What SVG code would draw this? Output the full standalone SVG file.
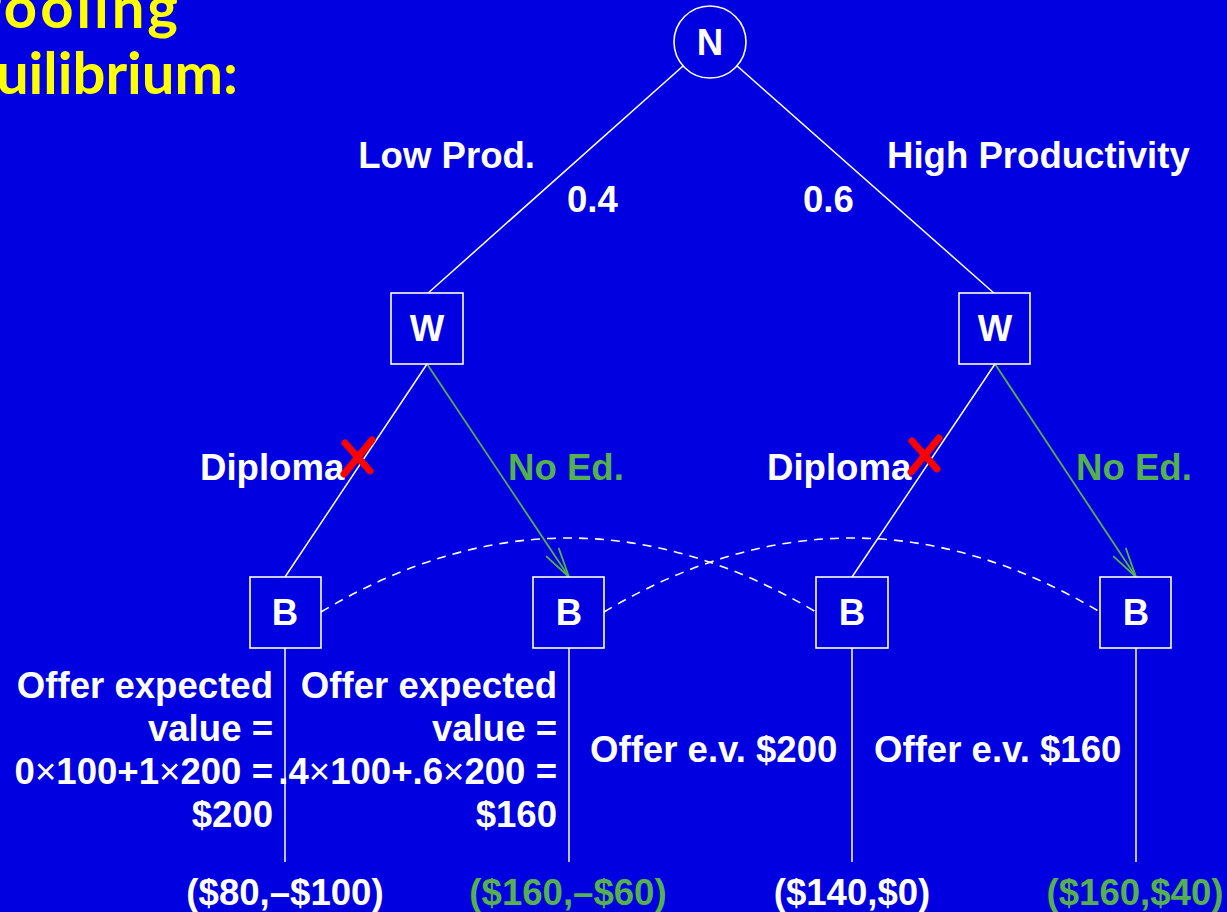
<svg xmlns="http://www.w3.org/2000/svg" width="1227" height="912" viewBox="0 0 1227 912">
  <defs>
    <style>
      .bg { fill: #0000E0; }
      .title { font-family: Lato, "Open Sans", sans-serif; font-weight: 700; font-size: 58px; fill: #FFFF00; }
      .t { font-family: "Liberation Sans", Arial, sans-serif; font-weight: 700; font-size: 36.6px; fill: #FFFFFF; }
      .x { font-weight: 400; }
      .g { fill: #55B04F; }
      .mid { text-anchor: middle; }
      .end { text-anchor: end; }
      .node { fill: #0000E0; stroke: #FFFFFF; stroke-width: 1.6; }
      .edge { fill: none; stroke: #FFFFFF; stroke-width: 1.5; }
      .choice { fill: none; stroke: #55B04F; stroke-width: 1.8; marker-end: url(#vee); }
      .info { fill: none; stroke: #FFFFFF; stroke-width: 1.6; stroke-dasharray: 9 7; }
      .cross { fill: none; stroke: #FF0000; stroke-width: 7; stroke-linecap: round; }
    </style>
    <marker id="vee" markerUnits="userSpaceOnUse" markerWidth="40" markerHeight="20" viewBox="-32 -10 34 20" refX="0" refY="0" orient="auto">
      <path d="M-30,-7.5 L0,0 L-30,7.5" fill="none" stroke="#55B04F" stroke-width="1.8"/>
    </marker>
  </defs>

  <rect class="bg" x="0" y="0" width="1227" height="912"/>

  <!-- heading, running off the left edge -->
  <text class="title end" x="181" y="28" letter-spacing="3">Pooling</text>
  <text class="title end" x="238" y="94">Equilibrium:</text>

  <!-- connectors -->
  <g id="connectors">
    <line class="edge" x1="710" y1="42" x2="427" y2="294"/>
    <line class="edge" x1="710" y1="42" x2="995" y2="294"/>
    <line class="edge" x1="427" y1="364" x2="285" y2="577"/>
    <line class="choice" x1="427" y1="364" x2="569" y2="577"/>
    <line class="edge" x1="995" y1="364" x2="852" y2="577"/>
    <line class="choice" x1="995" y1="364" x2="1136" y2="577"/>
    <line class="edge" x1="285" y1="647" x2="285" y2="862"/>
    <line class="edge" x1="569" y1="647" x2="569" y2="862"/>
    <line class="edge" x1="852" y1="647" x2="852" y2="862"/>
    <line class="edge" x1="1136" y1="647" x2="1136" y2="862"/>
    <!-- information sets -->
    <path class="info" d="M321,612 Q568,464 816,612"/>
    <path class="info" d="M604,612 Q852,464 1100,612"/>
  </g>

  <!-- branch labels -->
  <g id="labels">
    <text class="t end" x="535" y="168">Low Prod.</text>
    <text class="t" x="887" y="168">High Productivity</text>
    <text class="t" x="567" y="212">0.4</text>
    <text class="t" x="803" y="212">0.6</text>
    <text class="t" x="200" y="480">Diploma</text>
    <text class="t g" x="508" y="480">No Ed.</text>
    <text class="t" x="767" y="480">Diploma</text>
    <text class="t g" x="1076" y="480">No Ed.</text>
  </g>

  <!-- crossed-out moves -->
  <g id="cross-left">
    <path class="cross" d="M345,443 L370,471"/>
    <path class="cross" d="M372,440 L344,474"/>
  </g>
  <g id="cross-right">
    <path class="cross" d="M912,441 L937,469"/>
    <path class="cross" d="M939,438 L911,472"/>
  </g>

  <!-- nodes -->
  <g id="node-N">
    <circle class="node" cx="710" cy="42" r="36"/>
    <text class="t mid" x="710" y="55">N</text>
  </g>
  <g id="node-W-low">
    <rect class="node" x="391" y="293" width="72" height="71"/>
    <text class="t mid" x="427" y="341">W</text>
  </g>
  <g id="node-W-high">
    <rect class="node" x="959" y="293" width="71" height="71"/>
    <text class="t mid" x="995" y="341">W</text>
  </g>
  <g id="node-B1">
    <rect class="node" x="250" y="577" width="71" height="71"/>
    <text class="t mid" x="285" y="625">B</text>
  </g>
  <g id="node-B2">
    <rect class="node" x="533" y="577" width="71" height="71"/>
    <text class="t mid" x="569" y="625">B</text>
  </g>
  <g id="node-B3">
    <rect class="node" x="816" y="577" width="72" height="71"/>
    <text class="t mid" x="852" y="625">B</text>
  </g>
  <g id="node-B4">
    <rect class="node" x="1100" y="577" width="71" height="71"/>
    <text class="t mid" x="1136" y="625">B</text>
  </g>

  <!-- employer offers -->
  <g id="offer-1">
    <text class="t end" x="273" y="698">Offer expected</text>
    <text class="t end" x="273" y="741">value =</text>
    <text class="t end" x="273" y="784">0<tspan class="x">×</tspan>100+1<tspan class="x">×</tspan>200 =</text>
    <text class="t end" x="273" y="827">$200</text>
  </g>
  <g id="offer-2">
    <text class="t end" x="557" y="698">Offer expected</text>
    <text class="t end" x="557" y="741">value =</text>
    <text class="t end" x="557" y="784">.4<tspan class="x">×</tspan>100+.6<tspan class="x">×</tspan>200 =</text>
    <text class="t end" x="557" y="827">$160</text>
  </g>
  <text class="t" x="590" y="762">Offer e.v. $200</text>
  <text class="t" x="874" y="762">Offer e.v. $160</text>

  <!-- payoffs -->
  <g id="payoffs">
    <text class="t mid" x="285" y="905">($80,–$100)</text>
    <text class="t mid g" x="568" y="905">($160,–$60)</text>
    <text class="t mid" x="852" y="905">($140,$0)</text>
    <text class="t mid g" x="1135" y="905">($160,$40)</text>
  </g>
</svg>
